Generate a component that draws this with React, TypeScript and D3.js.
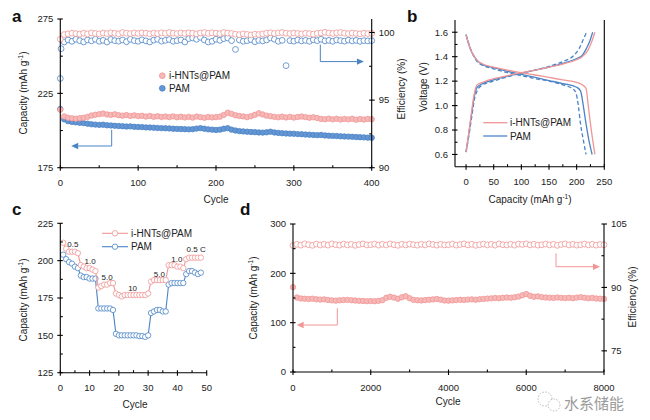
import React from 'react';
import * as d3 from 'd3';

const FONT = 'Arial, "Liberation Sans", Helvetica, sans-serif';
const INK = '#222';
const PINK = '#f09696';
const PINK_FILL = '#f7b8b8';
const BLUE = '#4a84c6';
const BLUE_FILL = '#6596d4';

// ---- panel a: 400 cycles, capacity (left) + efficiency (right) ----
// sampled every 5 cycles
const aCycles = d3.range(0, 401, 5);
const aCapHNT = [
  214.0, 209.5, 208.6, 208.2, 208.0, 208.3, 208.6, 209.2, 210.1, 210.6,
  211.0, 211.4, 210.8, 210.5, 210.9, 210.3, 210.0, 210.4, 209.8, 210.2,
  209.7, 209.9, 209.4, 209.8, 209.2, 209.6, 209.1, 209.4, 209.0, 209.5,
  208.9, 209.3, 208.8, 209.2, 208.7, 209.4, 209.0, 208.6, 209.1, 208.8,
  209.0, 209.3, 210.5, 212.0, 211.2, 210.3, 209.8, 209.5, 209.0, 209.6,
  210.6, 211.6, 210.8, 210.0, 209.6, 209.2, 208.9, 209.3, 208.8, 209.2,
  208.7, 209.1, 209.4, 209.0, 208.6, 208.9, 208.4, 207.8, 207.6, 208.0,
  207.5, 207.9, 207.4, 207.8, 207.5, 207.9, 207.3, 207.7, 207.4, 207.8,
  207.6,
];
const aCapPAM = [
  214.5, 207.5, 206.3, 205.8, 205.5, 205.2, 205.0, 204.6, 204.2, 204.0,
  203.8, 203.9, 203.5, 203.4, 203.2, 203.0, 202.9, 202.7, 202.8, 202.5,
  202.4, 202.3, 202.1, 202.0, 201.9, 201.7, 201.6, 201.5, 201.4, 201.2,
  201.1, 201.0, 200.9, 200.8, 200.9, 201.3, 201.6, 201.2, 200.8, 200.6,
  200.4, 200.6, 201.2, 201.6, 200.6, 200.0, 199.6, 199.4, 199.2, 199.0,
  198.9, 198.7, 198.6, 198.8, 199.2, 198.7, 198.4, 198.2, 198.0, 197.9,
  197.8, 197.6, 197.5, 197.3, 197.2, 197.0, 196.9, 197.0, 196.7, 196.5,
  196.4, 196.3, 196.1, 196.0, 195.9, 195.8, 195.6, 195.5, 195.4, 195.2,
  195.1,
];
const aEffHNT = [
  99.5, 99.85, 99.9, 99.95, 99.92, 99.88, 99.95, 99.9, 99.97, 99.93,
  99.9, 99.96, 99.92, 99.98, 99.94, 99.9, 100.0, 99.95, 99.92, 99.97,
  99.93, 99.98, 99.95, 99.9, 99.96, 99.92, 99.98, 99.94, 100.0, 99.95,
  99.92, 99.97, 99.93, 99.98, 99.95, 99.9, 99.97, 100.0, 99.94, 99.98,
  99.95, 99.92, 100.0, 99.96, 99.93, 99.88, 99.84, 99.9, 99.86, 99.82,
  99.88, 99.85, 99.9, 99.95, 99.98, 99.93, 99.97, 100.0, 99.95, 99.92,
  99.96, 99.93, 99.9, 99.95, 99.92, 99.88, 99.94, 99.97, 100.02, 99.96,
  99.93, 99.98, 100.0, 99.95, 99.92, 99.96, 99.93, 99.9, 99.95, 99.92,
  99.94,
];
const aEffPAM = [
  96.6, 99.3, 99.45, 99.35, 99.5, 99.4, 99.3, 99.45, 99.38, 99.5,
  99.35, 99.42, 99.3, 99.48, 99.4, 99.36, 99.45, 99.32, 99.5, 99.4,
  99.35, 99.46, 99.38, 99.3, 99.44, 99.5, 99.36, 99.42, 99.48, 99.35,
  99.4, 99.45, 99.3, 99.55, 99.6, 99.5, 99.65, 99.45, 99.3, 99.35,
  99.5, 99.42, 99.55, 99.6, 99.4, 98.75, 99.45, 99.35, 99.4, 99.48,
  99.32, 99.42, 99.38, 99.45, 99.6, 99.5, 99.35, 99.42, 97.55, 99.4,
  99.36, 99.45, 99.38, 99.42, 99.35, 99.46, 99.4, 99.5, 99.38, 99.42,
  99.35, 99.45, 99.4, 99.36, 99.44, 99.38, 99.42, 99.35, 99.4, 99.38,
  99.4,
];
const aEffPAMExtraCycles = [1];
const aEffPAMExtra = [98.8];

// ---- panel b: charge / discharge profiles [capacity, voltage] ----
const bHNTDis = [[0, 1.58], [5, 1.5], [10, 1.44], [15, 1.4], [20, 1.37], [30, 1.34], [50, 1.315], [75, 1.29], [100, 1.27], [125, 1.25], [150, 1.23], [175, 1.21], [200, 1.19], [210, 1.17], [217, 1.14], [221, 1.0], [225, 0.85], [229, 0.72], [233, 0.6]];
const bHNTChg = [[0, 0.62], [5, 0.78], [10, 0.95], [15, 1.1], [20, 1.17], [30, 1.19], [50, 1.22], [75, 1.245], [100, 1.27], [125, 1.29], [150, 1.315], [175, 1.34], [200, 1.375], [210, 1.4], [220, 1.45], [227, 1.52], [233, 1.6]];
const bPAMDis = [[0, 1.58], [5, 1.5], [10, 1.44], [15, 1.4], [20, 1.37], [30, 1.335], [50, 1.31], [75, 1.28], [100, 1.255], [125, 1.23], [150, 1.205], [175, 1.18], [200, 1.15], [207, 1.12], [212, 1.0], [217, 0.85], [222, 0.72], [228, 0.6]];
const bPAMChg = [[0, 0.62], [5, 0.77], [10, 0.93], [15, 1.08], [20, 1.15], [30, 1.18], [50, 1.21], [75, 1.24], [100, 1.265], [125, 1.29], [150, 1.315], [175, 1.345], [200, 1.385], [210, 1.41], [218, 1.47], [224, 1.53], [229, 1.6]];
const bPAMDis2 = [[0, 1.58], [10, 1.44], [20, 1.36], [30, 1.33], [50, 1.3], [75, 1.27], [100, 1.245], [125, 1.22], [150, 1.2], [175, 1.17], [195, 1.13], [199, 1.1], [203, 1.0], [207, 0.85], [212, 0.72], [217, 0.6]];
const bPAMChg2 = [[0, 0.62], [5, 0.75], [10, 0.9], [15, 1.05], [20, 1.12], [30, 1.17], [50, 1.2], [75, 1.235], [100, 1.265], [125, 1.29], [150, 1.32], [175, 1.36], [195, 1.41], [205, 1.47], [212, 1.54], [218, 1.6]];

// ---- panel c: rate performance ----
const cCycles = d3.range(1, 49);
const cHNT = [212, 208, 206, 206, 206, 205, 197, 196, 195, 195, 194, 193, 182, 183, 184, 184, 185, 185, 178, 177, 176, 177, 177, 177, 177, 177, 177, 177, 177, 178, 186, 187, 187, 187, 187, 187, 197, 197, 197, 196, 196, 195, 201, 202, 202, 202, 202, 202];
const cPAM = [204, 201, 199, 198, 196, 195, 190, 189, 189, 188, 188, 188, 168, 168, 168, 168, 168, 167, 151, 150, 150, 150, 150, 150, 150, 150, 149.5, 149.5, 149, 150, 165, 166, 167, 167, 166, 166, 184, 185, 185, 185, 185, 185, 191, 193, 193, 192, 191, 192];
const cRateLabels = ['0.5', '1.0', '5.0', '10', '5.0', '1.0', '0.5 C'];
const cRateAt = [[4.3, 209.3], [10.2, 197.8], [16, 187], [24.7, 179.7], [33.8, 188.9], [39.8, 199.3], [46.4, 205.6]];

// ---- panel d: long cycling of i-HNTs@PAM, sampled every 100 cycles ----
const dCycles = d3.range(0, 8001, 100);
const dCap = [
  172, 151, 149, 148.5, 148, 148.6, 147.5, 146.8, 147.2, 146,
  145.2, 144.6, 145.3, 145.8, 146.2, 145.5, 144.8, 144.3, 144.0, 143.6,
  143.8, 143.5, 144.2, 145.6, 150.5, 152.5, 150.8, 148.5, 151.5, 153.5,
  149.5, 146.2, 145.4, 145.0, 145.8, 146.5, 147.2, 148.0, 146.5, 145.0,
  144.6, 145.2, 145.8, 146.4, 146.0, 146.8, 147.2, 146.5, 147.5, 148.2,
  148.8, 149.3, 150.0, 149.5, 150.4, 151.0, 150.5, 151.5, 152.8, 155.5,
  158.0, 154.5, 152.5, 153.2, 151.8, 151.0, 150.6, 150.2, 151.0, 150.3,
  149.8, 150.5, 149.6, 150.8, 151.8, 150.5, 149.5, 150.2, 149.0, 148.6,
  148.2,
];
const dEff = [
  99.9, 100.2, 100.0, 100.3, 100.1, 99.95, 100.25, 100.05, 100.2, 100.0,
  100.3, 100.1, 100.0, 100.25, 100.05, 100.2, 99.95, 100.15, 100.3, 100.05,
  100.1, 100.25, 100.0, 100.2, 100.05, 100.3, 100.1, 99.95, 100.2, 100.05,
  100.25, 100.1, 100.0, 100.2, 100.05, 100.3, 100.15, 100.0, 100.2, 100.05,
  100.1, 100.25, 100.0, 100.15, 100.3, 100.05, 100.2, 99.95, 100.1, 100.25,
  100.05, 100.2, 100.0, 100.3, 100.1, 100.05, 100.2, 100.0, 100.25, 100.15,
  100.3, 100.05, 100.2, 100.0, 100.1, 100.25, 100.05, 100.2, 99.95, 100.15,
  100.3, 100.05, 100.2, 100.0, 100.1, 100.25, 100.05, 100.2, 100.0, 100.15,
  100.1,
];

const legendNames = ['i-HNTs@PAM', 'PAM'];

function Axis({ orient, scale, at, major, minor = [], fmt = (v: number) => String(v), labels = true, fs = 9.5 }: any) {
  const sw = 1.1;
  const tin = 2.5, tout = 3;
  const r = scale.range();
  const lo = Math.min(r[0], r[1]), hi = Math.max(r[0], r[1]);
  if (orient === 'bottom') {
    return (
      <g>
        <line x1={lo} x2={hi} y1={at} y2={at} stroke="#000" strokeWidth={sw} />
        {major.map((v: number) => <line key={'M' + v} x1={scale(v)} x2={scale(v)} y1={at - tin} y2={at + tout} stroke="#000" strokeWidth={sw} />)}
        {minor.map((v: number) => <line key={'m' + v} x1={scale(v)} x2={scale(v)} y1={at - tin} y2={at} stroke="#000" strokeWidth={sw} />)}
        {labels && major.map((v: number) => <text key={'t' + v} x={scale(v)} y={at + 18.5} textAnchor="middle" fontSize={fs} fill={INK}>{fmt(v)}</text>)}
      </g>
    );
  }
  const dir = orient === 'left' ? -1 : 1;
  return (
    <g>
      <line x1={at} x2={at} y1={lo} y2={hi} stroke="#000" strokeWidth={sw} />
      {major.map((v: number) => <line key={'M' + v} x1={at - dir * tin} x2={at + dir * tout} y1={scale(v)} y2={scale(v)} stroke="#000" strokeWidth={sw} />)}
      {minor.map((v: number) => <line key={'m' + v} x1={at - dir * tin} x2={at} y1={scale(v)} y2={scale(v)} stroke="#000" strokeWidth={sw} />)}
      {labels && major.map((v: number) => (
        <text key={'t' + v} x={at + dir * 7} y={scale(v)} dy="0.35em" textAnchor={orient === 'left' ? 'end' : 'start'} fontSize={fs} fill={INK}>{fmt(v)}</text>
      ))}
    </g>
  );
}

function Arrow({ pts, color }: { pts: number[][]; color: string }) {
  const n = pts.length;
  const [x1, y1] = pts[n - 2];
  const [x2, y2] = pts[n - 1];
  const len = Math.hypot(x2 - x1, y2 - y1);
  const ux = (x2 - x1) / len, uy = (y2 - y1) / len;
  const hl = 7, hw = 3.2;
  const bx = x2 - ux * hl, by = y2 - uy * hl;
  const linePts = [...pts.slice(0, n - 1), [bx, by]];
  return (
    <g>
      <polyline points={linePts.map((p) => p.join(',')).join(' ')} fill="none" stroke={color} strokeWidth={1} />
      <polygon points={`${x2},${y2} ${bx - uy * hw},${by + ux * hw} ${bx + uy * hw},${by - ux * hw}`} fill={color} />
    </g>
  );
}

function CapLabel({ x, y }: { x: number; y: number }) {
  return (
    <text x={x} y={y} transform={`rotate(-90 ${x} ${y})`} textAnchor="middle" fontSize={10} fill={INK}>
      Capacity (mAh g<tspan fontSize={6.5} dy={-4}>-1</tspan><tspan dy={4}>)</tspan>
    </text>
  );
}

export default function App() {
  // panel a scales
  const xa = d3.scaleLinear().domain([0, 400]).range([60.3, 371.7]);
  const ya = d3.scaleLinear().domain([175, 275]).range([167.7, 19]);
  const ya2 = d3.scaleLinear().domain([90, 101]).range([167.7, 19]);
  // panel b
  const xb = d3.scaleLinear().domain([-20, 250]).range([455, 604.3]);
  const yb = d3.scaleLinear().domain([0.5, 1.7]).range([166.7, 20]);
  // panel c
  const xc = d3.scaleLinear().domain([0, 50]).range([60.3, 206.7]);
  const yc = d3.scaleLinear().domain([125, 225]).range([372.7, 223.3]);
  // panel d
  const xd = d3.scaleLinear().domain([0, 8000]).range([293, 604]);
  const yd = d3.scaleLinear().domain([0, 300]).range([372, 224]);
  const yd2 = d3.scaleLinear().domain([70, 105]).range([372, 224]);

  const lineB = d3.line<number[]>().x((d) => xb(d[0])).y((d) => yb(d[1])).curve(d3.curveMonotoneX);
  const lineC = (vals: number[]) => d3.line<number>().x((_, i) => xc(cCycles[i])).y((d) => yc(d))(vals) || '';

  const dots = (xs: number[], vs: number[], sx: any, sy: any, r: number, fill: string, stroke: string, key: string) =>
    vs.map((v, i) => <circle key={key + i} cx={sx(xs[i])} cy={sy(v)} r={r} fill={fill} stroke={stroke} strokeWidth={0.8} />);

  return (
    <svg width={650} height={420} style={{ position: 'absolute', left: 0, top: 0, background: '#fff' }} fontFamily={FONT}>
      <rect width={650} height={420} fill="#fff" />

      {/* ---------- a ---------- */}
      <text x={12} y={22} fontSize={17} fontWeight="bold" fill="#111">a</text>
      <g>
        {dots(aCycles, aEffPAM, xa, ya2, 2.9, '#fff', BLUE, 'ep')}
        {dots(aEffPAMExtraCycles, aEffPAMExtra, xa, ya2, 2.9, '#fff', BLUE, 'epx')}
        {dots(aCycles, aEffHNT, xa, ya2, 2.9, '#fff', PINK, 'eh')}
        {dots(aCycles, aCapPAM, xa, ya, 2.7, BLUE_FILL, BLUE, 'cp')}
        {dots(aCycles, aCapHNT, xa, ya, 2.7, PINK_FILL, PINK, 'ch')}
      </g>
      <Axis orient="bottom" scale={xa} at={167.7} major={[0, 100, 200, 300, 400]} minor={[50, 150, 250, 350]} />
      <Axis orient="left" scale={ya} at={60.3} major={[175, 225, 275]} minor={[200, 250]} />
      <Axis orient="right" scale={ya2} at={371.7} major={[90, 95, 100]} minor={[92.5, 97.5]} />
      <Arrow color={BLUE} pts={[[xa(66), ya(200.5)], [xa(66), ya(189.6)], [xa(14), ya(189.6)]]} />
      <Arrow color={BLUE} pts={[[xa(334), ya2(99.1)], [xa(334), ya2(97.85)], [xa(390), ya2(97.85)]]} />
      <g fontSize={10} fill={INK}>
        <circle cx={162.3} cy={75.7} r={2.9} fill={PINK_FILL} stroke={PINK} strokeWidth={0.8} />
        <text x={169} y={75.7} dy="0.35em">{legendNames[0]}</text>
        <circle cx={162.3} cy={88.3} r={2.9} fill={BLUE_FILL} stroke={BLUE} strokeWidth={0.8} />
        <text x={169} y={88.3} dy="0.35em">{legendNames[1]}</text>
      </g>
      <CapLabel x={27} y={93} />
      <text x={405} y={89} transform="rotate(-90 405 89)" textAnchor="middle" fontSize={10} fill={INK}>Efficiency (%)</text>
      <text x={216} y={203} textAnchor="middle" fontSize={10} fill={INK}>Cycle</text>

      {/* ---------- b ---------- */}
      <text x={407} y={22} fontSize={17} fontWeight="bold" fill="#111">b</text>
      <g fill="none" strokeWidth={1.3}>
        <path d={lineB(bPAMDis2) || ''} stroke={BLUE} strokeDasharray="4 2.5" />
        <path d={lineB(bPAMChg2) || ''} stroke={BLUE} strokeDasharray="4 2.5" />
        <path d={lineB(bPAMDis) || ''} stroke={BLUE} />
        <path d={lineB(bPAMChg) || ''} stroke={BLUE} />
        <path d={lineB(bHNTDis) || ''} stroke={PINK} />
        <path d={lineB(bHNTChg) || ''} stroke={PINK} />
      </g>
      <Axis orient="bottom" scale={xb} at={166.7} major={[0, 50, 100, 150, 200, 250]} minor={[25, 75, 125, 175, 225]} />
      <Axis orient="left" scale={yb} at={455} major={[0.6, 0.8, 1.0, 1.2, 1.4, 1.6]} minor={[0.7, 0.9, 1.1, 1.3, 1.5]} fmt={d3.format('.1f')} />
      <line x1={604.3} x2={604.3} y1={20} y2={166.7} stroke="#000" strokeWidth={1.1} />
      <g fontSize={10} fill={INK}>
        <line x1={483.3} x2={507.3} y1={122.7} y2={122.7} stroke={PINK} strokeWidth={1.3} />
        <text x={510} y={122.7} dy="0.35em">{legendNames[0]}</text>
        <line x1={483.3} x2={507.3} y1={136} y2={136} stroke={BLUE} strokeWidth={1.3} />
        <text x={510} y={136} dy="0.35em">{legendNames[1]}</text>
      </g>
      <text x={427} y={87} transform="rotate(-90 427 87)" textAnchor="middle" fontSize={10} fill={INK}>Voltage (V)</text>
      <text x={530} y={203} textAnchor="middle" fontSize={10} fill={INK}>
        Capacity (mAh g<tspan fontSize={6.5} dy={-4}>-1</tspan><tspan dy={4}>)</tspan>
      </text>

      {/* ---------- c ---------- */}
      <text x={12} y={215} fontSize={17} fontWeight="bold" fill="#111">c</text>
      <path d={lineC(cPAM)} fill="none" stroke={BLUE} strokeWidth={1.1} />
      {dots(cCycles, cPAM, xc, yc, 2.7, '#fff', BLUE, 'rp')}
      <path d={lineC(cHNT)} fill="none" stroke={PINK} strokeWidth={1.1} />
      {dots(cCycles, cHNT, xc, yc, 2.7, '#fff', PINK, 'rh')}
      <g fontSize={8} fill={INK} textAnchor="middle">
        {cRateLabels.map((t, i) => <text key={'r' + i} x={xc(cRateAt[i][0])} y={yc(cRateAt[i][1])}>{t}</text>)}
      </g>
      <Axis orient="bottom" scale={xc} at={372.7} major={[0, 10, 20, 30, 40, 50]} minor={[5, 15, 25, 35, 45]} />
      <Axis orient="left" scale={yc} at={60.3} major={[125, 150, 175, 200, 225]} minor={[137.5, 162.5, 187.5, 212.5]} />
      <g fontSize={10} fill={INK}>
        <line x1={102} x2={128} y1={233.3} y2={233.3} stroke={PINK} strokeWidth={1.1} />
        <circle cx={115} cy={233.3} r={2.7} fill="#fff" stroke={PINK} strokeWidth={0.8} />
        <text x={131} y={233.3} dy="0.35em">{legendNames[0]}</text>
        <line x1={102} x2={128} y1={246.7} y2={246.7} stroke={BLUE} strokeWidth={1.1} />
        <circle cx={115} cy={246.7} r={2.7} fill="#fff" stroke={BLUE} strokeWidth={0.8} />
        <text x={131} y={246.7} dy="0.35em">{legendNames[1]}</text>
      </g>
      <CapLabel x={27} y={300} />
      <text x={135} y={408} textAnchor="middle" fontSize={10} fill={INK}>Cycle</text>

      {/* ---------- d ---------- */}
      <text x={240} y={215} fontSize={17} fontWeight="bold" fill="#111">d</text>
      {dots(dCycles, dEff, xd, yd2, 2.9, '#fff', PINK, 'de')}
      {dots(dCycles, dCap, xd, yd, 2.7, PINK_FILL, PINK, 'dc')}
      <Axis orient="bottom" scale={xd} at={372} major={[0, 2000, 4000, 6000, 8000]} minor={[1000, 3000, 5000, 7000]} />
      <Axis orient="left" scale={yd} at={293} major={[0, 100, 200, 300]} minor={[50, 150, 250]} />
      <Axis orient="right" scale={yd2} at={604} major={[75, 90, 105]} minor={[82.5, 97.5]} />
      <Arrow color={PINK} pts={[[xd(6765), yd2(98.07)], [xd(6765), yd2(94.9)], [xd(7897), yd2(94.9)]]} />
      <Arrow color={PINK} pts={[[xd(1140), yd(129.1)], [xd(1140), yd(95.3)], [xd(95), yd(95.3)]]} />
      <CapLabel x={257} y={298} />
      <text x={636} y={297} transform="rotate(-90 636 297)" textAnchor="middle" fontSize={10} fill={INK}>Efficiency (%)</text>
      <text x={448} y={405} textAnchor="middle" fontSize={10} fill={INK}>Cycle</text>

      {/* watermark, kept just below the tick labels */}
      <g opacity={0.85}>
        <circle cx={545} cy={399} r={7} fill="#fff" stroke="#999" strokeWidth={0.8} strokeDasharray="1.5 1.5" />
        <circle cx={554} cy={405} r={6} fill="#fff" stroke="#999" strokeWidth={0.8} strokeDasharray="1.5 1.5" />
        <text x={564} y={409} fontSize={15} fontFamily='"Noto Sans CJK SC", sans-serif' fill="#8a8a8a" stroke="#fff" strokeWidth={2} paintOrder="stroke">水系储能</text>
      </g>
    </svg>
  );
}
